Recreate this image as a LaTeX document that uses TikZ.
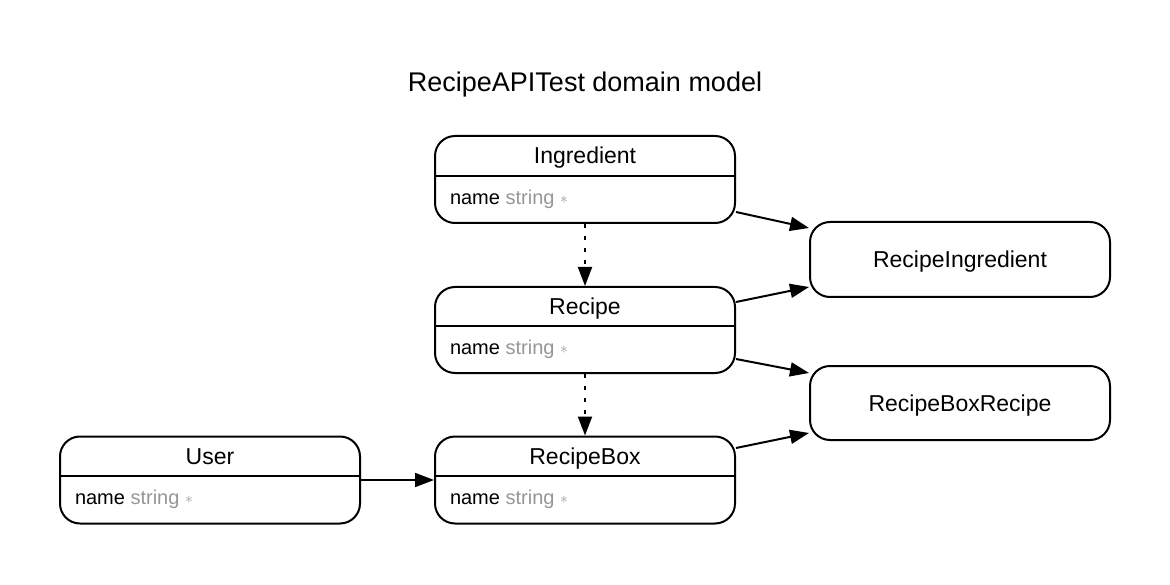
\documentclass[tikz,border=0pt]{standalone}
\usepackage{fontspec}
\setmainfont{Liberation Sans}
\usetikzlibrary{arrows.meta}
\definecolor{attrgray}{RGB}{150,150,150}
\newcommand{\attrtype}[1]{\textcolor{attrgray}{#1~\raisebox{1pt}{\scalebox{0.75}{$\ast$}}}}
\begin{document}
\begin{tikzpicture}[x=1pt,y=-1pt,>={Triangle[length=19pt,width=14pt]},line join=round,line width=2pt,
	classbox/.style={draw,rounded corners=20pt,minimum width=300pt,minimum height=87pt,inner sep=0pt},
	linkbox/.style={draw,rounded corners=20pt,minimum width=300pt,minimum height=75pt,inner sep=0pt,text height=16.5pt,text depth=0pt,font=\fontsize{23}{27}\selectfont},
	ctitle/.style={inner sep=0pt,text height=16.5pt,text depth=0pt,font=\fontsize{23}{27}\selectfont},
	cattr/.style={inner sep=0pt,anchor=west,text height=14.3pt,text depth=0pt,font=\fontsize{20}{24}\selectfont}]
	\useasboundingbox (0,0) rectangle (1170,585);
	\node[inner sep=0pt,text height=19.3pt,text depth=0pt,font=\fontsize{27}{32}\selectfont] (title) at (585,81.7) {RecipeAPITest domain model};
	% classes
	\node[classbox] (ingr) at (585,179.5) {};
	\node[classbox,minimum height=86pt] (rec) at (585,330) {};
	\node[classbox] (rbox) at (585,480) {};
	\node[classbox] (user) at (210,480) {};
	\node[ctitle] (ingrname) at ([yshift=-20.5pt]ingr.north) {Ingredient};
	\node[ctitle] (recname) at ([yshift=-20.5pt]rec.north) {Recipe};
	\node[ctitle] (rboxname) at ([yshift=-20.5pt]rbox.north) {RecipeBox};
	\node[ctitle] (username) at ([yshift=-20.5pt]user.north) {User};
	\node[cattr] (ingrattr) at ([xshift=15pt,yshift=-17.5pt]ingr.west) {name \attrtype{string}};
	\node[cattr] (recattr) at ([xshift=15pt,yshift=-17pt]rec.west) {name \attrtype{string}};
	\node[cattr] (rboxattr) at ([xshift=15pt,yshift=-17pt]rbox.west) {name \attrtype{string}};
	\node[cattr] (userattr) at ([xshift=15pt,yshift=-17pt]user.west) {name \attrtype{string}};
	\draw ([yshift=3.5pt]ingr.west)--([yshift=3.5pt]ingr.east) ([yshift=4pt]rec.west)--([yshift=4pt]rec.east)
	([yshift=4pt]rbox.west)--([yshift=4pt]rbox.east) ([yshift=4pt]user.west)--([yshift=4pt]user.east);
	% join tables
	\node[linkbox] (ri) at (960,259.5) {RecipeIngredient};
	\node[linkbox,minimum height=74pt] (rbr) at (960,403) {RecipeBoxRecipe};
	% links
	\draw[->,dash pattern=on 4pt off 8pt] (ingr.south)--(rec.north);
	\draw[->,dash pattern=on 4pt off 8pt] (rec.south)--(rbox.north);
	\draw[->] (user.east)--(rbox.west);
	\draw[->] ([yshift=-32.5pt]ingr.east)--([yshift=31.5pt]ri.west);
	\draw[->] ([yshift=28pt]rec.east)--([yshift=-27.5pt]ri.west);
	\draw[->] ([yshift=-29pt]rec.east)--([yshift=30pt]rbr.west);
	\draw[->] ([yshift=32pt]rbox.east)--([yshift=-30pt]rbr.west);
\end{tikzpicture}
\end{document}
